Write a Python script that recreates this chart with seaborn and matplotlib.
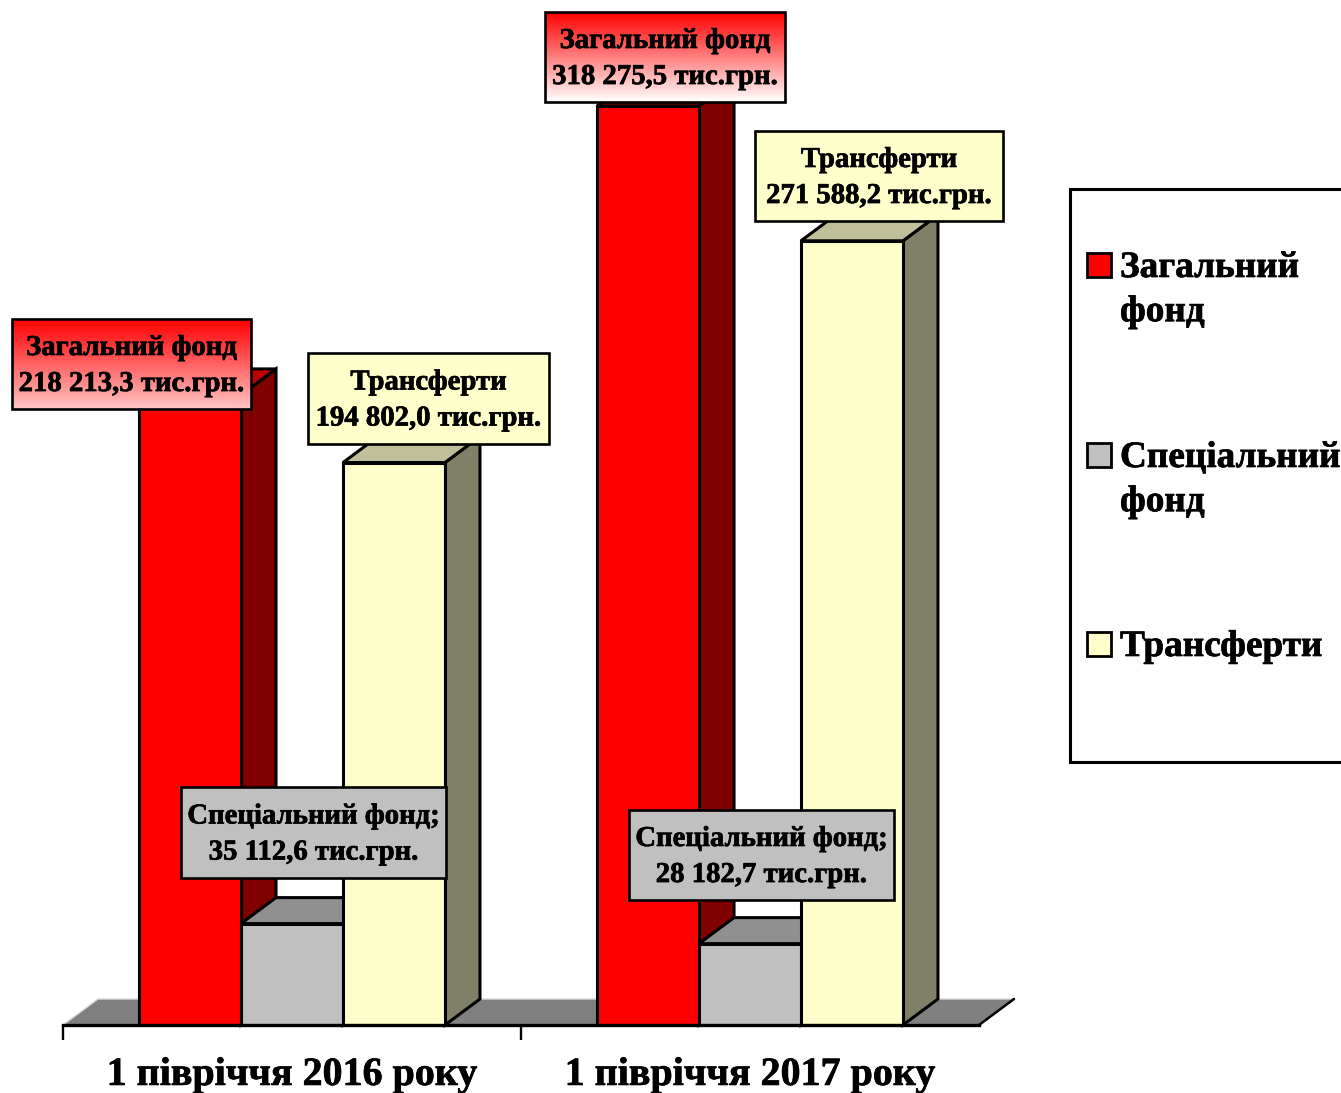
import numpy as np
import pandas as pd
import matplotlib
matplotlib.use("Agg")
import matplotlib.pyplot as plt
import matplotlib.patheffects as pe
from matplotlib.patches import Polygon, Rectangle
from matplotlib.colors import LinearSegmentedColormap, to_rgb
import seaborn as sns

periods = ["1 півріччя 2016 року", "1 півріччя 2017 року"]
funds = ["Загальний фонд", "Спеціальний фонд", "Трансферти"]
general_fund = [218213.3, 318275.5]
special_fund = [35112.6, 28182.7]
transfers = [194802.0, 271588.2]
colors = {"Загальний фонд": "#FF0000", "Спеціальний фонд": "#C0C0C0", "Трансферти": "#FFFFCC"}
legend_labels = ["Загальний\nфонд", "Спеціальний\nфонд", "Трансферти"]

W, H = 1341, 1093
FONT = "Liberation Serif"
sns.set_theme(style="white")
plt.rcParams["font.family"] = [FONT, "DejaVu Sans"]
heavy = [pe.withStroke(linewidth=0.5, foreground="black")]

df = pd.DataFrame({
    "period": np.repeat(periods, 3),
    "fund": funds * 2,
    "value": [general_fund[0], special_fund[0], transfers[0],
              general_fund[1], special_fund[1], transfers[1]],
})

fig = plt.figure(figsize=(W / 100, H / 100), dpi=100, facecolor="white")
base_px, left_px, right_px, top_px = 1025, 63, 979, 8
ax = fig.add_axes([left_px / W, (H - base_px) / H, (right_px - left_px) / W, (base_px - top_px) / H])
ax.set_facecolor("none")

sns.barplot(data=df, x="period", y="value", hue="fund", hue_order=funds, order=periods,
            palette=colors, width=0.668, gap=0, saturation=1, edgecolor="black",
            linewidth=2.2, legend=False, ax=ax)

px_per_value = 919 / max(general_fund)
ax.set_xlim(-0.5, 1.5)
ax.set_ylim(0, (base_px - top_px) / px_per_value)

# pseudo-3D depth, in data units
dx = 35 / ((right_px - left_px) / 2)
dy = 26 / px_per_value

floor = Polygon([(-0.5, 0), (1.5, 0), (1.5 + dx, dy), (-0.5 + dx, dy)], closed=True,
                facecolor="#808080", edgecolor="#D8D8D8", linewidth=1, zorder=1, clip_on=False)
ax.add_patch(floor)
ax.plot([1.5, 1.5 + dx], [0, dy], color="black", linewidth=1.8, zorder=2, clip_on=False)

bars = sorted([p for p in ax.patches if p is not floor and p.get_height() > 0], key=lambda p: p.get_x())
for i, bar in enumerate(bars):
    x0, w, h = bar.get_x(), bar.get_width(), bar.get_height()
    rgb = np.array(to_rgb(bar.get_facecolor()))
    z = 3 + i
    ax.add_patch(Polygon([(x0 + w, 0), (x0 + w + dx, dy), (x0 + w + dx, h + dy), (x0 + w, h)], closed=True,
                         facecolor=rgb * 0.5, edgecolor="black", linewidth=2.2, zorder=z, clip_on=False))
    ax.add_patch(Polygon([(x0, h), (x0 + dx, h + dy), (x0 + w + dx, h + dy), (x0 + w, h)], closed=True,
                         facecolor=rgb * 0.75, edgecolor="black", linewidth=2.2, zorder=z, clip_on=False))
    bar.set_zorder(z + 0.5)

for s in ["top", "left", "right"]:
    ax.spines[s].set_visible(False)
ax.spines["bottom"].set_color("black")
ax.spines["bottom"].set_linewidth(2.4)
ax.spines["bottom"].set_zorder(20)
ax.set_xlabel("")
ax.set_ylabel("")
ax.set_yticks([])
ax.set_xticks([0, 1])
ax.set_xticks([-0.5, 0.5], minor=True)
ax.tick_params(axis="x", which="major", length=0, pad=23, labelsize=28.8, labelcolor="black")
ax.tick_params(axis="x", which="minor", length=10.5, width=1.7, color="black", bottom=True, direction="out")
for t in ax.get_xticklabels():
    t.set_fontweight("bold")
    t.set_fontfamily(FONT)
    t.set_path_effects(heavy)

# overlay in pixel coordinates for callouts and the legend
ov = fig.add_axes([0, 0, 1, 1], facecolor="none")
ov.set_xlim(0, W)
ov.set_ylim(H, 0)
ov.axis("off")


def fmt(v):
    return f"{v:,.1f}".replace(",", " ").replace(".", ",") + " тис.грн."


def callout(x0, y0, x1, y1, text, face=None, grad_end=None):
    if grad_end is not None:
        cmap = LinearSegmentedColormap.from_list("g", ["#FF0000", grad_end])
        ov.imshow(np.linspace(0, 1, 128).reshape(-1, 1), cmap=cmap, aspect="auto",
                  extent=(x0, x1, y1, y0), zorder=5)
        face = "none"
    ov.add_patch(Rectangle((x0, y0), x1 - x0, y1 - y0, facecolor=face, edgecolor="black", linewidth=1.9, zorder=6))
    ov.text((x0 + x1) / 2, (y0 + y1) / 2 + 1.5, text, ha="center", va="center", fontsize=20.7, fontweight="bold",
            color="black", linespacing=1.43, zorder=7, family=FONT, path_effects=heavy)


callout(12, 319, 251, 409, f"{funds[0]}\n{fmt(general_fund[0])}", grad_end="#FFC4C4")
callout(308, 353, 549, 444, f"{funds[2]}\n{fmt(transfers[0])}", face=colors[funds[2]])
callout(181, 787, 446, 878, f"{funds[1]};\n{fmt(special_fund[0])}", face=colors[funds[1]])
callout(545, 12, 785, 102, f"{funds[0]}\n{fmt(general_fund[1])}", grad_end="#FFFFFF")
callout(755, 131, 1003, 221, f"{funds[2]}\n{fmt(transfers[1])}", face=colors[funds[2]])
callout(629, 810, 894, 900, f"{funds[1]};\n{fmt(special_fund[1])}", face=colors[funds[1]])

# legend
ov.add_patch(Rectangle((1070, 189), 300, 573, facecolor="white", edgecolor="black", linewidth=2.2, zorder=1, clip_on=True))
for fund, label, y in zip(funds, legend_labels, [265, 455, 644]):
    ov.add_patch(Rectangle((1087, y - 12), 24, 24, facecolor=colors[fund], edgecolor="black", linewidth=2.0, zorder=2))
    ov.text(1120, y - 15, label, ha="left", va="top", fontsize=26.8, fontweight="bold", color="black",
            linespacing=1.34, zorder=2, family=FONT, path_effects=heavy)
ov.set_xlim(0, W)
ov.set_ylim(H, 0)

fig.savefig("out.png", dpi=100, facecolor="white")
